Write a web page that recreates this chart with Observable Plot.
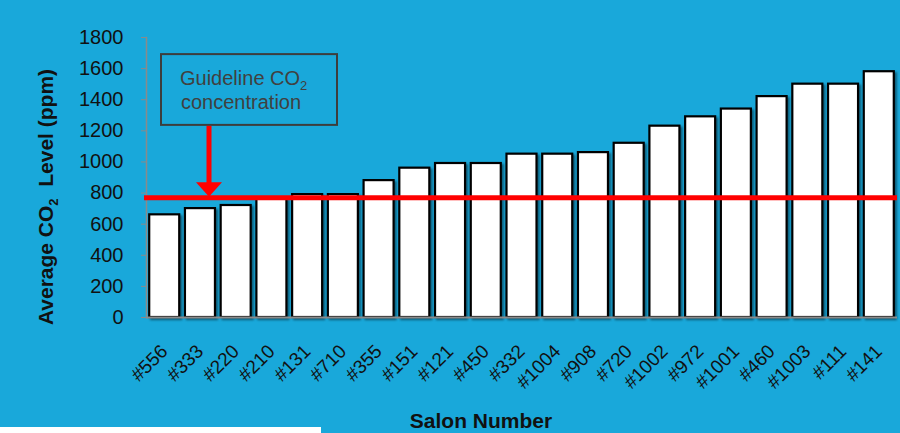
<!DOCTYPE html>
<html>
<head>
<meta charset="utf-8">
<script src="https://cdn.jsdelivr.net/npm/d3@7"></script>
<script src="https://cdn.jsdelivr.net/npm/@observablehq/plot@0.6"></script>
<style>
  html, body { margin: 0; padding: 0; background: #19a8da; }
  body { width: 900px; height: 433px; overflow: hidden; position: relative;
         font-family: "Liberation Sans", Arial, sans-serif; }
  #chart svg { display: block; }
  #strip { position: absolute; left: 0; top: 427px; width: 321px; height: 6px; background: #fff; }
</style>
</head>
<body>
<div id="chart"></div>
<div id="strip"></div>
<script>
// Salons, ordered by their average CO2 level
const salons = ["#556", "#333", "#220", "#210", "#131", "#710", "#355", "#151", "#121", "#450",
                "#332", "#1004", "#908", "#720", "#1002", "#972", "#1001", "#460", "#1003", "#111", "#141"];
// Average CO2 level per salon (ppm)
const co2 = [660, 700, 720, 760, 790, 790, 880, 960, 990, 990,
             1050, 1050, 1060, 1120, 1230, 1290, 1340, 1420, 1500, 1500, 1580];
// Guideline CO2 concentration (ppm)
const guideline = 770;
// Y axis tick values
const yTicks = [0, 200, 400, 600, 800, 1000, 1200, 1400, 1600, 1800];

const rows = salons.map((s, i) => ({salon: s, co2: co2[i]}));

const chart = Plot.plot({
  width: 900,
  height: 433,
  marginLeft: 146,
  marginRight: 3,
  marginTop: 37,
  marginBottom: 116,
  style: {background: "transparent", fontFamily: "'Liberation Sans', Arial, sans-serif", overflow: "visible"},
  x: {domain: salons, paddingInner: 0.16, paddingOuter: 0.09, round: false, axis: null},
  y: {domain: [0, 1800], axis: null},
  marks: [
    Plot.barY(rows, {x: "salon", y: "co2", fill: "white", stroke: "#000", strokeWidth: 2.2}),
    Plot.frame({anchor: "left", stroke: "#8a8a8a", strokeWidth: 1.5}),
    Plot.ruleY([0], {stroke: "#8a8a8a", strokeWidth: 2}),
    Plot.axisY(yTicks, {tickSize: 5, tickPadding: 18, fontSize: 20, fill: "#111", stroke: "#8a8a8a",
                        tickFormat: d => String(d), label: null}),
    Plot.ruleY([guideline], {stroke: "#ff0000", strokeWidth: 5, insetLeft: -2}),
    Plot.text(salons, {x: d => d, frameAnchor: "bottom", text: d => d, rotate: -45,
                       textAnchor: "end", lineAnchor: "bottom", dx: 4, dy: 35,
                       fontSize: 19, fill: "#111"})
  ]
});

document.getElementById("chart").append(chart);

const svg = d3.select(chart);
const y = v => chart.scale("y").apply(v);

// soft shadows on the bars and the guideline
svg.selectAll("g[aria-label='bar']").style("filter", "drop-shadow(2px 2px 1.2px rgba(0,0,0,0.45))");
svg.selectAll("g[aria-label='rule']").filter((d, i, n) => d3.select(n[i]).select("line").attr("stroke") === "#ff0000")
  .style("filter", "drop-shadow(0px 3px 2px rgba(0,0,0,0.35))");

// guideline annotation: box, label and arrow down to the line
const ann = svg.append("g").attr("text-anchor", "start");
const boxTop = y(1690), boxBottom = y(1235);
ann.append("rect")
  .attr("x", 161).attr("y", boxTop)
  .attr("width", 176).attr("height", boxBottom - boxTop)
  .attr("fill", "none").attr("stroke", "#3d3d3d").attr("stroke-width", 2);
const t1 = ann.append("text").attr("x", 180).attr("y", boxTop + 31)
  .attr("font-size", 20).attr("fill", "#404040");
t1.append("tspan").text("Guideline CO");
t1.append("tspan").attr("font-size", 13).attr("dy", 5).text("2");
ann.append("text").attr("x", 181).attr("y", boxTop + 55)
  .attr("font-size", 20).attr("fill", "#404040").text("concentration");

const ax = 209, headTop = y(guideline) - 15;
ann.append("line").attr("x1", ax).attr("x2", ax)
  .attr("y1", boxBottom + 1).attr("y2", headTop + 1)
  .attr("stroke", "#ff0000").attr("stroke-width", 5);
ann.append("path")
  .attr("d", `M${ax - 13},${headTop} L${ax + 13},${headTop} L${ax},${y(guideline) - 0.5} Z`)
  .attr("fill", "#ff0000");

// axis titles
const yl = svg.append("text")
  .attr("transform", `translate(53,${(37 + 317) / 2 + 20}) rotate(-90)`)
  .attr("text-anchor", "middle").attr("font-size", 21).attr("font-weight", "bold").attr("fill", "#111");
yl.append("tspan").text("Average CO");
yl.append("tspan").attr("font-size", 13).attr("dy", 5).text("2");
yl.append("tspan").attr("dy", -5).text("\u00a0\u00a0Level (ppm)");

svg.append("text")
  .attr("x", 481).attr("y", 428)
  .attr("text-anchor", "middle").attr("font-size", 21).attr("font-weight", "bold").attr("fill", "#111")
  .text("Salon Number");
</script>
</body>
</html>
